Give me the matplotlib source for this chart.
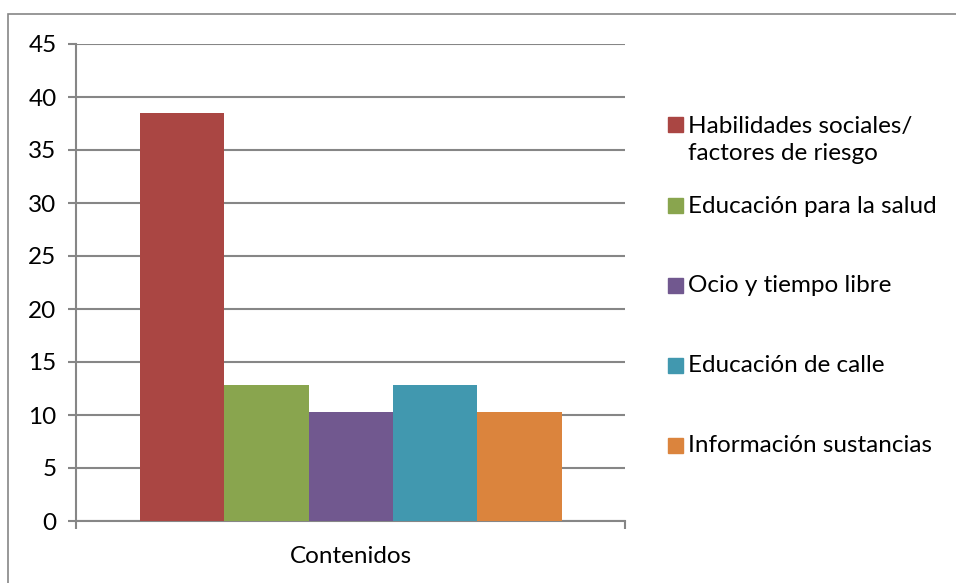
import matplotlib.pyplot as plt
from matplotlib.patches import Rectangle

categories = ['Habilidades sociales/\nfactores de riesgo', 'Educación para la salud',
              'Ocio y tiempo libre', 'Educación de calle', 'Información sustancias']
values = [38.46, 12.82, 10.26, 12.82, 10.26]
colors = ['#AA4643', '#89A54E', '#71588F', '#4198AF', '#DB843D']
group_label = 'Contenidos'
y_ticks = list(range(0, 50, 5))

plt.rcParams['font.family'] = ['Lato', 'DejaVu Sans']
grey = '#868686'
fs = 17.5

fig = plt.figure(figsize=(9.56, 5.83), dpi=100)
W, H = 956, 583
ax = fig.add_axes([76 / W, (H - 521) / H, 549 / W, 477 / H])

xs = list(range(len(values)))
ax.bar(xs, values, width=1.0, color=colors, zorder=3)

ax.set_xlim(-1.255, 5.25)
ax.set_ylim(0, 45)
ax.set_yticks(y_ticks)
ax.tick_params(axis='y', length=6, width=1.5, color=grey, labelsize=fs, pad=8)
ax.yaxis.grid(True, color=grey, linewidth=1.5, zorder=0)

# one category label in the middle, small ticks at both ends of the axis
ax.set_xticks([2])
ax.set_xticklabels([group_label], fontsize=fs)
ax.tick_params(axis='x', which='major', length=0, pad=18)
ax.set_xticks([-1.255, 5.25], minor=True)
ax.tick_params(axis='x', which='minor', length=6, width=1.5, color=grey)

for side in ('top', 'right'):
    ax.spines[side].set_visible(False)
for side in ('left', 'bottom'):
    ax.spines[side].set_color(grey)
    ax.spines[side].set_linewidth(1.5)

# legend entries placed down the right side
legend_y = [140, 206, 286, 366, 446]
for label, color, y in zip(categories, colors, legend_y):
    n = label.count('\n') + 1
    top = y - 15 * (n - 1)
    fig.patches.append(Rectangle((668 / W, (H - top - 7) / H), 15 / W, 15 / H,
                                 transform=fig.transFigure, color=color))
    fig.text(688 / W, (H - y) / H, label, fontsize=fs, va='center', ha='left',
             linespacing=1.35)

# chart frame
fig.patches.append(Rectangle((8 / W, -0.05), 1.2, (H - 14) / H + 0.05,
                             transform=fig.transFigure, fill=False,
                             edgecolor=grey, linewidth=1.2))

fig.savefig('out.png', dpi=100)
